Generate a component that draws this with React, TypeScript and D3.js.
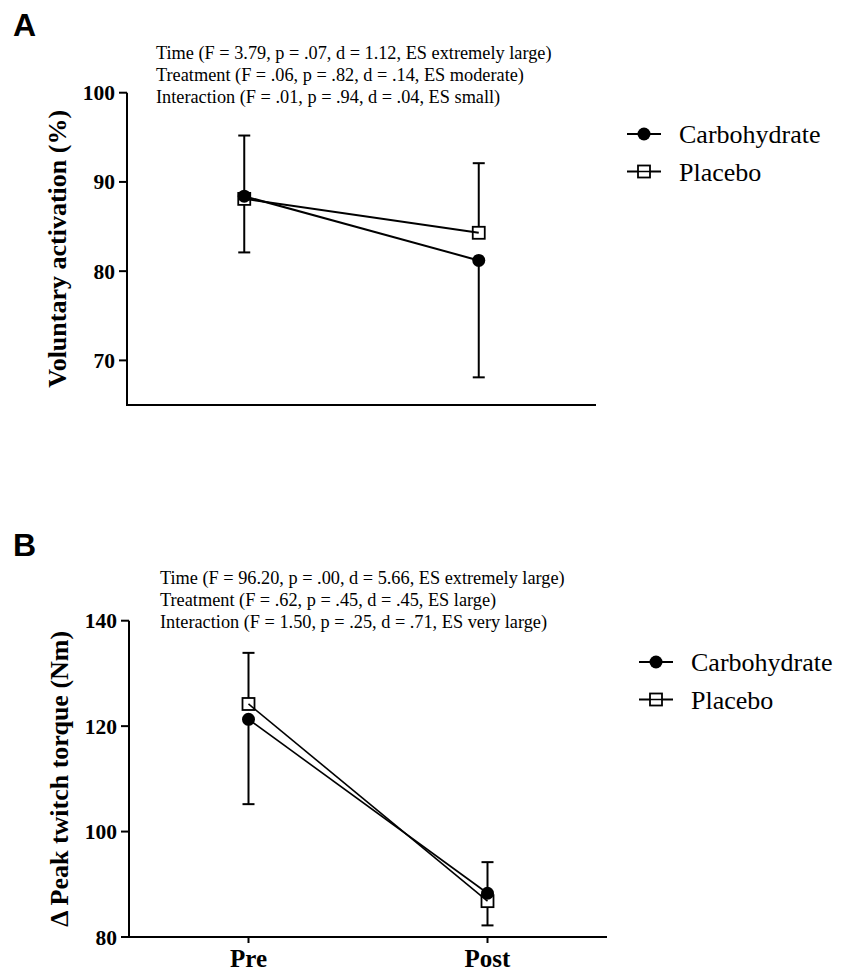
import * as d3 from 'd3';

// time points on the x axis
const timepoints = ['Pre', 'Post'];

// panel A: voluntary activation (%)
const carbA = [88.4, 81.2];
const carbAErr = [6.3, 13.1];
const placA = [88.1, 84.3];
const placAErr = [7.1, 7.8];
const ticksA = [70, 80, 90, 100];
const notesA = [
  'Time (F = 3.79, p = .07, d = 1.12, ES extremely large)',
  'Treatment (F = .06, p = .82, d = .14, ES moderate)',
  'Interaction (F = .01, p = .94, d = .04, ES small)',
];

// panel B: peak twitch torque (Nm)
const carbB = [121.3, 88.3];
const carbBErr = [16.1, 6.1];
const placB = [124.2, 86.8];
const placBErr = [9.7, 7.4];
const ticksB = [80, 100, 120, 140];
const notesB = [
  'Time (F = 96.20, p = .00, d = 5.66, ES extremely large)',
  'Treatment (F = .62, p = .45, d = .45, ES large)',
  'Interaction (F = 1.50, p = .25, d = .71, ES very large)',
];

const legendNames = ['Carbohydrate', 'Placebo'];

const SERIF = '"Liberation Serif", "Times New Roman", serif';
const SANS = '"Liberation Sans", Arial, sans-serif';

interface PanelProps {
  letter: string;
  letterY: number;
  left: number;
  right: number;
  top: number;
  bottom: number;
  domain: [number, number];
  ticks: number[];
  carb: number[];
  carbErr: number[];
  plac: number[];
  placErr: number[];
  title: string;
  notes: string[];
  notesX: number;
  notesY: number;
  showX: boolean;
  legendX: number;
  legendY: number;
  lineW: number;
}

function Panel(p: PanelProps) {
  const x = d3.scaleLinear().domain([-0.5, 1.5]).range([p.left, p.right]);
  const y = d3.scaleLinear().domain(p.domain).range([p.bottom, p.top]);
  const line = d3.line<number>().x((_, i) => x(i)).y(d => y(d));
  const cap = 6;

  return (
    <g>
      <text x={13} y={p.letterY} fontFamily={SANS} fontWeight="bold" fontSize={32}>{p.letter}</text>

      {p.notes.map((n, i) => (
        <text key={i} x={p.notesX} y={p.notesY + i * 22} fontFamily={SERIF} fontSize={18.3}>{n}</text>
      ))}

      {/* axes */}
      <line x1={p.left} x2={p.left} y1={p.top} y2={p.bottom + 1} stroke="#000" strokeWidth={2} />
      <line x1={p.left} x2={p.right} y1={p.bottom} y2={p.bottom} stroke="#000" strokeWidth={2} />
      {p.ticks.map(t => (
        <g key={t}>
          <line x1={p.left - 8} x2={p.left} y1={y(t)} y2={y(t)} stroke="#000" strokeWidth={2} />
          <text x={p.left - 12} y={y(t)} dy="0.35em" textAnchor="end" fontFamily={SERIF} fontWeight="bold" fontSize={21.5}>{t}</text>
        </g>
      ))}
      {p.showX && timepoints.map((t, i) => (
        <g key={t}>
          <line x1={x(i)} x2={x(i)} y1={p.bottom} y2={p.bottom + 6} stroke="#000" strokeWidth={2} />
          <text x={x(i)} y={p.bottom + 30} textAnchor="middle" fontFamily={SERIF} fontWeight="bold" fontSize={25}>{t}</text>
        </g>
      ))}
      <text
        transform={`translate(${p.left - 61},${(p.top + p.bottom) / 2}) rotate(-90)`}
        textAnchor="middle" fontFamily={SERIF} fontWeight="bold" fontSize={26}
      >{p.title}</text>

      {/* error bars: placebo upward, carbohydrate downward */}
      {p.plac.map((v, i) => {
        const e = y(v + p.placErr[i]);
        return (
          <g key={'pe' + i} stroke="#000" strokeWidth={2}>
            <line x1={x(i)} x2={x(i)} y1={y(v)} y2={e} />
            <line x1={x(i) - cap} x2={x(i) + cap} y1={e} y2={e} />
          </g>
        );
      })}
      {p.carb.map((v, i) => {
        const e = y(v - p.carbErr[i]);
        return (
          <g key={'ce' + i} stroke="#000" strokeWidth={2}>
            <line x1={x(i)} x2={x(i)} y1={y(v)} y2={e} />
            <line x1={x(i) - cap} x2={x(i) + cap} y1={e} y2={e} />
          </g>
        );
      })}

      {/* markers */}
      {p.plac.map((v, i) => (
        <rect key={'pm' + i} x={x(i) - 6} y={y(v) - 6} width={12} height={12} fill="#fff" stroke="#000" strokeWidth={1.8} />
      ))}
      {p.carb.map((v, i) => (
        <circle key={'cm' + i} cx={x(i)} cy={y(v)} r={6.5} fill="#000" />
      ))}

      {/* connecting lines */}
      <path d={line(p.plac) || ''} fill="none" stroke="#000" strokeWidth={p.lineW} />
      <path d={line(p.carb) || ''} fill="none" stroke="#000" strokeWidth={p.lineW} />

      {/* legend */}
      {legendNames.map((n, i) => {
        const ly = p.legendY + i * 37.5;
        const cx = p.legendX + 17;
        return (
          <g key={n}>
            <line x1={p.legendX} x2={p.legendX + 34} y1={ly} y2={ly} stroke="#000" strokeWidth={2} />
            {i === 0
              ? <circle cx={cx} cy={ly} r={6.5} fill="#000" />
              : <rect x={cx - 6} y={ly - 6} width={12} height={12} fill="#fff" stroke="#000" strokeWidth={1.8} />}
            {i === 1 && <line x1={cx - 6} x2={cx + 6} y1={ly} y2={ly} stroke="#000" strokeWidth={1.5} />}
            <text x={p.legendX + 52} y={ly} dy="0.35em" fontFamily={SERIF} fontSize={26}>{n}</text>
          </g>
        );
      })}
    </g>
  );
}

export default function App() {
  return (
    <svg width={847} height={979} style={{ position: 'absolute', left: 0, top: 0, background: '#fff' }}>
      <rect width={847} height={979} fill="#fff" />
      <Panel
        letter="A" letterY={36}
        left={127} right={596} top={92.7} bottom={405}
        domain={[65, 100]} ticks={ticksA}
        carb={carbA} carbErr={carbAErr} plac={placA} placErr={placAErr}
        title="Voluntary activation (%)"
        notes={notesA} notesX={156} notesY={58.5}
        showX={false}
        legendX={627} legendY={134}
        lineW={2}
      />
      <Panel
        letter="B" letterY={556}
        left={129} right={607} top={620.7} bottom={937}
        domain={[80, 140]} ticks={ticksB}
        carb={carbB} carbErr={carbBErr} plac={placB} placErr={placBErr}
        title="Δ Peak twitch torque (Nm)"
        notes={notesB} notesX={160} notesY={584}
        showX={true}
        legendX={639} legendY={662}
        lineW={1.6}
      />
    </svg>
  );
}
